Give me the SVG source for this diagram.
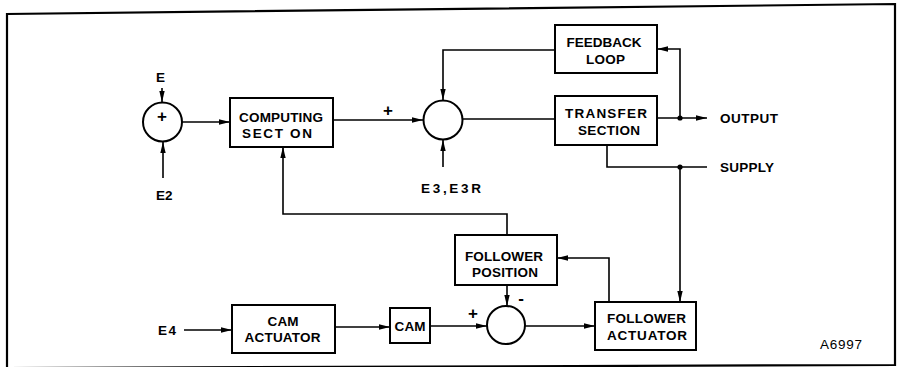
<svg xmlns="http://www.w3.org/2000/svg" width="898" height="367" viewBox="0 0 898 367">
<defs>
<marker id="ah" markerUnits="userSpaceOnUse" markerWidth="12" markerHeight="7" refX="11" refY="3" orient="auto">
<path d="M0,0.3 L11,3 L0,5.7 z" fill="#000"/>
</marker>
<style>
.bx{fill:#fff;stroke:#000;stroke-width:2}
.cl{fill:#fff;stroke:#000;stroke-width:2}
.ln{fill:none;stroke:#000;stroke-width:1.6}
.ar{fill:none;stroke:#000;stroke-width:1.6;marker-end:url(#ah)}
text{font-family:"Liberation Sans",Arial,sans-serif;font-weight:bold;font-size:13.5px;fill:#000}
.m{text-anchor:middle}
.sg{font-size:17px;text-anchor:middle}
</style>
</defs>
<rect width="898" height="367" fill="#fff"/>
<path d="M7,369 L7,14 L895,4 L895,365 L7,368" fill="none" stroke="#000" stroke-width="2.2"/>

<g id="connectors">
<line class="ar" x1="162" y1="88" x2="162" y2="102"/>
<line class="ar" x1="163" y1="178" x2="163" y2="142"/>
<line class="ar" x1="182" y1="122" x2="230" y2="122"/>
<line class="ar" x1="333" y1="120" x2="423" y2="120"/>
<path class="ar" d="M555,50 H443 V100"/>
<line class="ar" x1="443" y1="167" x2="443" y2="140"/>
<line class="ln" x1="462" y1="119" x2="555" y2="119"/>
<line class="ar" x1="657" y1="118" x2="707" y2="118"/>
<path class="ar" d="M680,118 V49 H657"/>
<circle cx="680" cy="118" r="2.6" fill="#000"/>
<path class="ln" d="M607,145 V167 H707"/>
<circle cx="680" cy="167" r="2.6" fill="#000"/>
<line class="ar" x1="680" y1="167" x2="680" y2="302"/>
<path class="ar" d="M609,302 V258 H557"/>
<path class="ar" d="M507,235 V214 H283 V147"/>
<line class="ar" x1="507" y1="285" x2="507" y2="306"/>
<line class="ar" x1="525" y1="326" x2="595" y2="326"/>
<line class="ar" x1="430" y1="326" x2="487" y2="326"/>
<line class="ar" x1="335" y1="327" x2="390" y2="327"/>
<line class="ar" x1="184" y1="330" x2="232" y2="330"/>
</g>

<g id="sum1">
<circle class="cl" cx="162.5" cy="122" r="19.5"/>
<text class="sg" x="162" y="122">+</text>
</g>
<g id="sum2">
<circle class="cl" cx="443" cy="120" r="19.5"/>
</g>
<g id="sum3">
<circle class="cl" cx="506" cy="325" r="19"/>
</g>

<g id="computing">
<rect class="bx" x="230" y="98" width="103" height="49"/>
<text class="m" x="281" y="122" textLength="84" lengthAdjust="spacing">COMPUTING</text>
<text class="m" x="277" y="137.5" textLength="70" lengthAdjust="spacing">SECT ON</text>
</g>
<g id="feedback">
<rect class="bx" x="555" y="25" width="102" height="48"/>
<text class="m" x="604" y="47" textLength="75" lengthAdjust="spacing">FEEDBACK</text>
<text class="m" x="605.5" y="64" textLength="39" lengthAdjust="spacing">LOOP</text>
</g>
<g id="transfer">
<rect class="bx" x="555" y="96" width="102" height="49"/>
<text class="m" x="606" y="118" textLength="82" lengthAdjust="spacing">TRANSFER</text>
<text class="m" x="609" y="135" textLength="62" lengthAdjust="spacing">SECTION</text>
</g>
<g id="followerposition">
<rect class="bx" x="455" y="235" width="102" height="50"/>
<text class="m" x="504" y="261" textLength="78" lengthAdjust="spacing">FOLLOWER</text>
<text class="m" x="505" y="276.5" textLength="66" lengthAdjust="spacing">POSITION</text>
</g>
<g id="followeractuator">
<rect class="bx" x="595" y="302" width="101" height="48"/>
<text class="m" x="646.5" y="323" textLength="79" lengthAdjust="spacing">FOLLOWER</text>
<text class="m" x="647" y="340" textLength="80" lengthAdjust="spacing">ACTUATOR</text>
</g>
<g id="camactuator">
<rect class="bx" x="232" y="305" width="103" height="48"/>
<text class="m" x="283" y="326" textLength="31" lengthAdjust="spacing">CAM</text>
<text class="m" x="282.5" y="342" textLength="76" lengthAdjust="spacing">ACTUATOR</text>
</g>
<g id="cam">
<rect class="bx" x="390" y="308" width="40" height="35"/>
<text class="m" x="410" y="331" textLength="31" lengthAdjust="spacing">CAM</text>
</g>

<g id="labels">
<text class="m" x="160.5" y="82">E</text>
<text x="156" y="200">E2</text>
<text x="158" y="335" textLength="18" lengthAdjust="spacing">E4</text>
<text x="421" y="193" textLength="60" lengthAdjust="spacing">E3,E3R</text>
<text x="720" y="123" textLength="58" lengthAdjust="spacing">OUTPUT</text>
<text x="720" y="172" textLength="54" lengthAdjust="spacing">SUPPLY</text>
<text x="820" y="349" textLength="42" lengthAdjust="spacing" style="font-weight:normal">A6997</text>
<text class="sg" x="388" y="116">+</text>
<text class="sg" x="473" y="319">+</text>
<text class="sg" x="521" y="304">-</text>
</g>
</svg>
